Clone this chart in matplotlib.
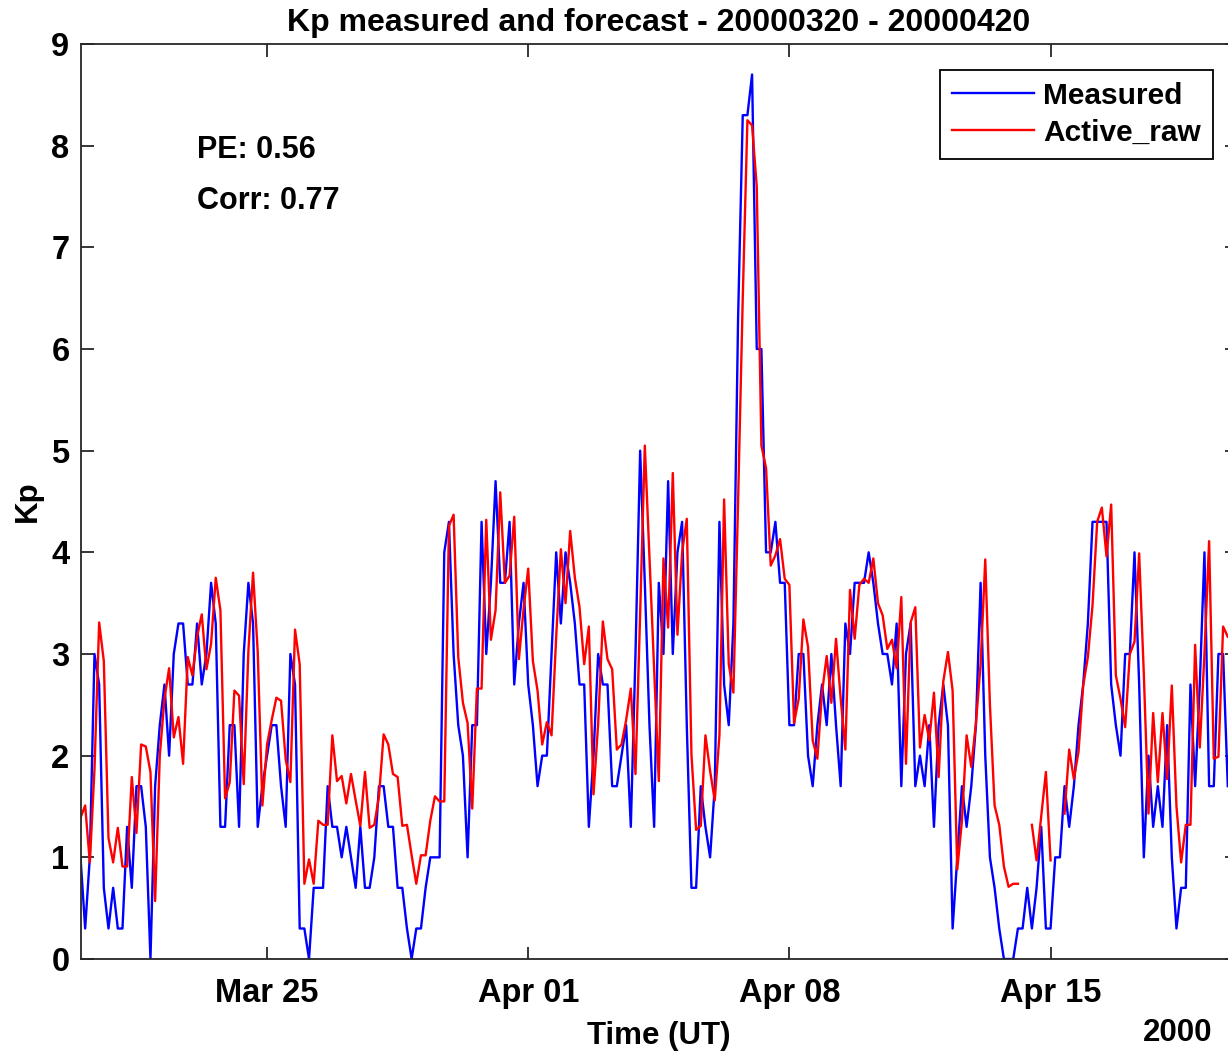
import numpy as np
import pandas as pd
import matplotlib
matplotlib.use("Agg")
import matplotlib.pyplot as plt
from datetime import datetime

plt.rcParams["font.family"] = ["Liberation Sans", "DejaVu Sans"]
plt.rcParams["font.weight"] = "bold"

nan = np.nan

# 3-hourly Kp, starting 2000-03-20 00:00
measured = [
    1.0, 0.3, 1.0, 3.0, 2.7, 0.7, 0.3, 0.7, 0.3, 0.3, 1.3, 0.7, 1.7, 1.7, 1.3, 0.0,
    1.7, 2.3, 2.7, 2.0, 3.0, 3.3, 3.3, 2.7, 2.7, 3.3, 2.7, 3.0, 3.7, 3.3, 1.3, 1.3,
    2.3, 2.3, 1.3, 3.0, 3.7, 3.3, 1.3, 1.7, 2.0, 2.3, 2.3, 1.7, 1.3, 3.0, 2.7, 0.3,
    0.3, 0.0, 0.7, 0.7, 0.7, 1.7, 1.3, 1.3, 1.0, 1.3, 1.0, 0.7, 1.3, 0.7, 0.7, 1.0,
    1.7, 1.7, 1.3, 1.3, 0.7, 0.7, 0.3, 0.0, 0.3, 0.3, 0.7, 1.0, 1.0, 1.0, 4.0, 4.3,
    3.0, 2.3, 2.0, 1.0, 2.3, 2.3, 4.3, 3.0, 3.7, 4.7, 3.7, 3.7, 4.3, 2.7, 3.3, 3.7,
    2.7, 2.3, 1.7, 2.0, 2.0, 3.0, 4.0, 3.3, 4.0, 3.7, 3.3, 2.7, 2.7, 1.3, 2.0, 3.0,
    2.7, 2.7, 1.7, 1.7, 2.0, 2.3, 1.3, 3.0, 5.0, 3.7, 2.3, 1.3, 3.7, 3.0, 4.7, 3.0,
    4.0, 4.3, 2.3, 0.7, 0.7, 1.7, 1.3, 1.0, 1.7, 4.3, 2.7, 2.3, 3.3, 6.3, 8.3, 8.3,
    8.7, 6.0, 6.0, 4.0, 4.0, 4.3, 3.7, 3.7, 2.3, 2.3, 3.0, 3.0, 2.0, 1.7, 2.3, 2.7,
    2.3, 3.0, 2.3, 1.7, 3.3, 3.0, 3.7, 3.7, 3.7, 4.0, 3.7, 3.3, 3.0, 3.0, 2.7, 3.3,
    1.7, 3.0, 3.3, 1.7, 2.0, 1.7, 2.3, 1.3, 2.3, 2.7, 2.3, 0.3, 1.0, 1.7, 1.3, 1.7,
    2.3, 3.7, 2.0, 1.0, 0.7, 0.3, 0.0, 0.0, 0.0, 0.3, 0.3, 0.7, 0.3, 0.7, 1.3, 0.3,
    0.3, 1.0, 1.0, 1.7, 1.3, 1.7, 2.3, 2.7, 3.3, 4.3, 4.3, 4.3, 4.3, 2.7, 2.3, 2.0,
    3.0, 3.0, 4.0, 2.7, 1.0, 2.0, 1.3, 1.7, 1.3, 2.3, 1.0, 0.3, 0.7, 0.7, 2.7, 1.7,
    2.7, 4.0, 1.7, 1.7, 3.0, 3.0, 1.7,
]

active_raw = [
    1.39, 1.51, 0.95, 1.87, 3.31, 2.93, 1.19, 0.95, 1.29, 0.91, 0.91, 1.79, 1.24, 2.11, 2.09, 1.84,
    0.57, 2.00, 2.56, 2.86, 2.18, 2.38, 1.92, 2.97, 2.79, 3.17, 3.39, 2.85, 3.10, 3.75, 3.43, 1.58,
    1.74, 2.64, 2.59, 1.72, 3.03, 3.80, 3.02, 1.51, 2.11, 2.35, 2.57, 2.54, 1.96, 1.74, 3.24, 2.90,
    0.74, 0.98, 0.74, 1.36, 1.32, 1.32, 2.20, 1.75, 1.80, 1.53, 1.82, 1.56, 1.31, 1.84, 1.29, 1.32,
    1.60, 2.21, 2.11, 1.82, 1.79, 1.31, 1.32, 1.02, 0.74, 1.02, 1.02, 1.36, 1.60, 1.55, 1.55, 4.26,
    4.37, 2.97, 2.52, 2.32, 1.48, 2.66, 2.66, 4.32, 3.14, 3.43, 4.59, 3.70, 3.77, 4.35, 2.95, 3.44,
    3.84, 2.93, 2.64, 2.11, 2.33, 2.20, 3.17, 4.03, 3.50, 4.21, 3.75, 3.46, 2.90, 3.27, 1.62, 2.32,
    3.32, 2.95, 2.85, 2.06, 2.11, 2.35, 2.66, 1.82, 3.40, 5.05, 3.95, 2.85, 1.75, 3.94, 3.26, 4.78,
    3.19, 4.00, 4.33, 2.01, 1.27, 1.31, 2.20, 1.85, 1.56, 2.20, 4.52, 2.90, 2.62, 4.50, 6.50, 8.25,
    8.20, 7.60, 5.05, 4.83, 3.87, 3.97, 4.13, 3.74, 3.68, 2.32, 2.56, 3.34, 3.07, 2.15, 1.97, 2.62,
    2.98, 2.52, 3.15, 2.56, 2.06, 3.63, 3.15, 3.68, 3.74, 3.70, 3.94, 3.50, 3.38, 3.05, 3.14, 2.86,
    3.56, 1.92, 3.31, 3.46, 2.08, 2.40, 2.15, 2.62, 1.79, 2.73, 3.02, 2.64, 0.88, 1.36, 2.20, 1.89,
    2.32, 2.90, 3.93, 2.50, 1.51, 1.32, 0.91, 0.71, 0.74, 0.74, nan, nan, 1.32, 0.97, 1.40, 1.84,
    0.97, nan, nan, 1.43, 2.06, 1.77, 2.04, 2.69, 2.97, 3.48, 4.30, 4.44, 3.96, 4.47, 2.79, 2.56,
    2.28, 3.00, 3.12, 3.99, 2.80, 1.43, 2.42, 1.74, 2.42, 1.77, 2.69, 1.50, 0.95, 1.32, 1.32, 3.09,
    2.08, 3.00, 4.11, 1.97, 1.99, 3.27, 3.17,
]

tick_dates = [datetime(2000, 3, 25), datetime(2000, 4, 1), datetime(2000, 4, 8), datetime(2000, 4, 15)]
tick_labels = ["Mar 25", "Apr 01", "Apr 08", "Apr 15"]

times = pd.date_range("2000-03-20 00:00", periods=len(measured), freq="3h")

fig = plt.figure(figsize=(12.28, 10.53), dpi=100)
# right spine sits just past the image edge, as in the original
ax = fig.add_axes([80.5 / 1228, 1 - 959 / 1053, 1156.6 / 1228, (959 - 44) / 1053])

ax.plot(times, measured, color="blue", lw=1.7, label="Measured")
ax.plot(times, active_raw, color="red", lw=1.7, label="Active_raw")

ax.set_xlim(datetime(2000, 3, 20), datetime(2000, 4, 20))
ax.set_ylim(0, 9)
ax.set_yticks(range(0, 10))
ax.set_xticks(tick_dates)
ax.set_xticklabels(tick_labels)

axis_col = "#262626"
for s in ax.spines.values():
    s.set_linewidth(1.3)
    s.set_color(axis_col)
ax.tick_params(direction="in", length=9, width=1.3, color=axis_col,
               top=True, right=True, labelsize=23.5, labelcolor="black")
ax.tick_params(axis="x", pad=14)
ax.tick_params(axis="y", pad=8)

ax.set_title("Kp measured and forecast - 20000320 - 20000420", fontsize=23,
             fontweight="bold", pad=9)
ax.set_ylabel("Kp", fontsize=22.5, fontweight="bold", labelpad=6)
ax.set_xlabel("Time (UT)", fontsize=22.5, fontweight="bold", labelpad=8)

ax.text(datetime(2000, 3, 23, 3), 7.96, "PE: 0.56", fontsize=22, fontweight="bold", va="center")
ax.text(datetime(2000, 3, 23, 3), 7.46, "Corr: 0.77", fontsize=22, fontweight="bold", va="center")

fig.text(1212 / 1228, 1 - 1033 / 1053, "2000", fontsize=22.5, fontweight="bold",
         ha="right", va="center")

leg = ax.legend(loc="upper right", bbox_to_anchor=(1213 / 1228, 1 - 70 / 1053),
                bbox_transform=fig.transFigure, borderaxespad=0, fontsize=21.5,
                frameon=True, fancybox=False, edgecolor="black", framealpha=1,
                handlelength=2.75, handletextpad=0.3, borderpad=0.4, labelspacing=0.3)
leg.get_frame().set_linewidth(1.3)

fig.savefig("out.png", dpi=100)
plt.close(fig)
